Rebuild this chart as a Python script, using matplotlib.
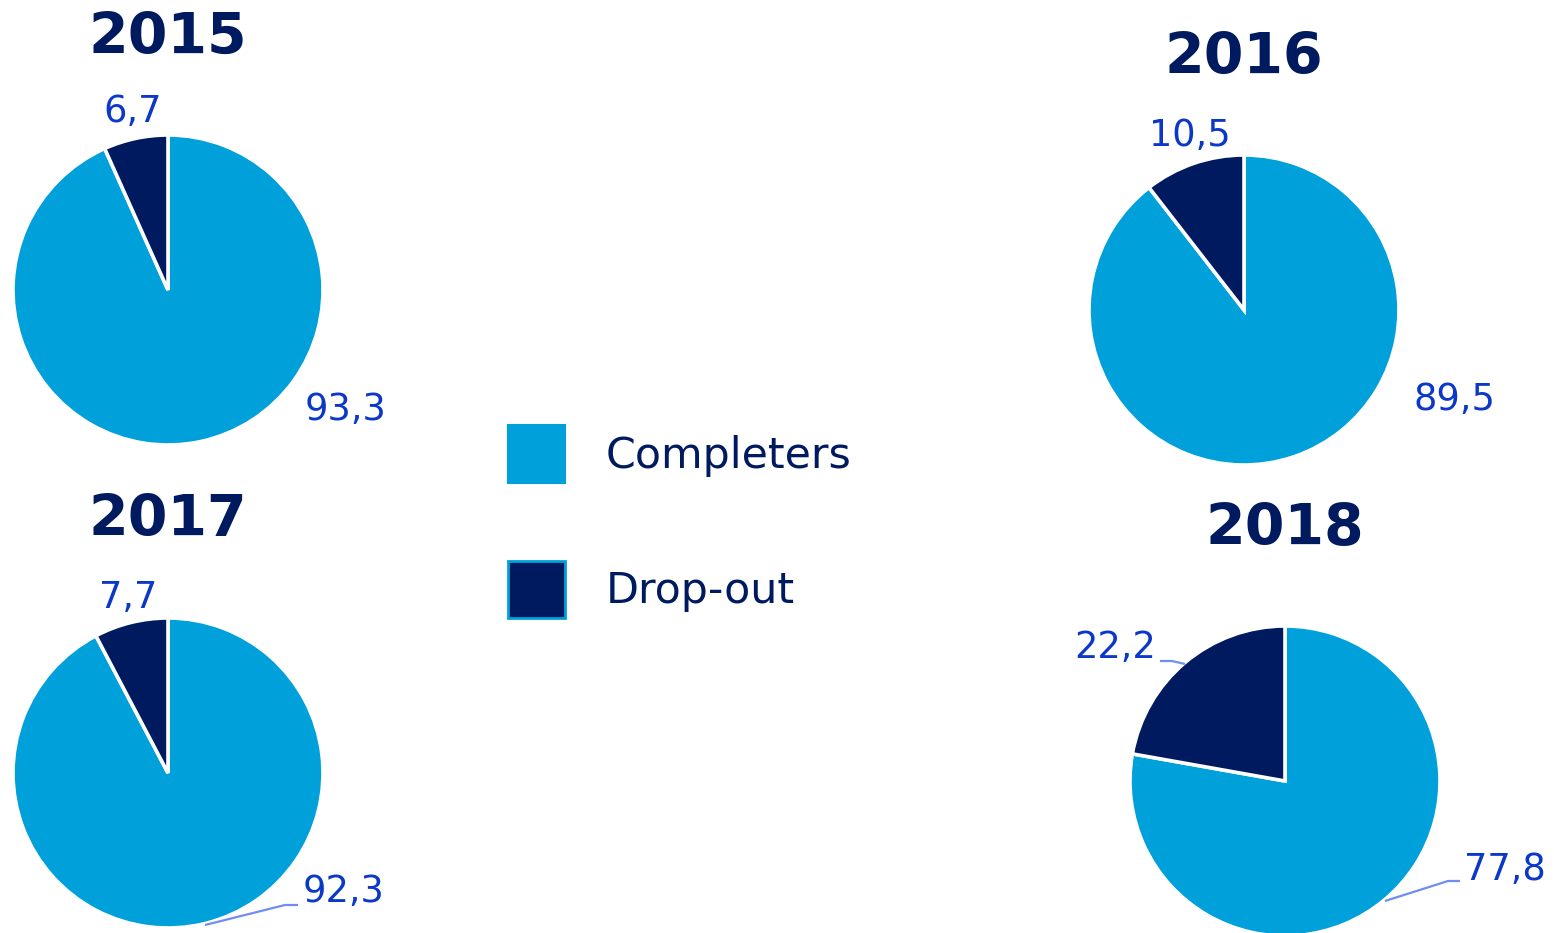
import matplotlib
matplotlib.use("Agg")
import matplotlib.pyplot as plt
from matplotlib.patches import Patch

# ---- data ----
years = ["2015", "2016", "2017", "2018"]
categories = ["Completers", "Drop-out"]
completers = [93.3, 89.5, 92.3, 77.8]
dropout = [6.7, 10.5, 7.7, 22.2]

# ---- style ----
colors = ["#00a0da", "#001a5f"]
title_color = "#001a5f"
label_color = "#0b38c9"
leader_color = "#6f8df5"

W, H = 1554, 933
fig = plt.figure(figsize=(W / 100, H / 100), dpi=100)
ax = fig.add_axes([0, 0, 1, 1])

def fy(y):
    return H - y

# layout (pixel coordinates, top-left origin)
centers = [(168, 290), (1244, 310), (168, 773), (1285, 781)]
radius = 155
title_pos = [(168, 38), (1244, 58), (168, 521), (1285, 530)]
drop_lab = [(133, 112), (1190, 136), (128, 597), (1115, 648)]
comp_lab = [(346, 410), (1455, 399), (344, 892), (1505, 869)]
leaders = {
    (2, 0): [(205, 925), (285, 905), (298, 905)],
    (3, 1): [(1160, 661), (1172, 661), (1185, 664)],
    (3, 0): [(1385, 901), (1448, 881), (1460, 881)],
}

def fmt(v):
    return f"{v:.1f}".replace(".", ",")

for i, yr in enumerate(years):
    cx, cy = centers[i]
    ax.pie([completers[i], dropout[i]], colors=colors, startangle=90,
           counterclock=False, center=(cx, fy(cy)), radius=radius,
           wedgeprops=dict(edgecolor="white", linewidth=2.6), frame=True)
    tx, ty = title_pos[i]
    ax.text(tx, fy(ty), yr, ha="center", va="center", fontsize=41,
            fontweight="bold", color=title_color)
    lx, ly = drop_lab[i]
    ax.text(lx, fy(ly), fmt(dropout[i]), ha="center", va="center",
            fontsize=26.5, color=label_color)
    lx, ly = comp_lab[i]
    ax.text(lx, fy(ly), fmt(completers[i]), ha="center", va="center",
            fontsize=26.5, color=label_color)

for (i, k), pts in leaders.items():
    ax.plot([p[0] for p in pts], [fy(p[1]) for p in pts], color=leader_color,
            lw=1.6, solid_capstyle="butt")

ax.set_xlim(0, W)
ax.set_ylim(0, H)
ax.set_aspect("auto")
ax.axis("off")

handles = [Patch(facecolor=colors[0], edgecolor=colors[0], linewidth=1.5),
           Patch(facecolor=colors[1], edgecolor=colors[0], linewidth=2.0)]
fig.legend(handles, categories, loc="upper left",
           bbox_to_anchor=(508 / W, 1 - 425 / H), frameon=False,
           fontsize=30.8, handlelength=1.33, handleheight=1.70,
           handletextpad=0.95, labelspacing=1.82, borderpad=0,
           borderaxespad=0, labelcolor=title_color)

fig.savefig("out.png", dpi=100)
